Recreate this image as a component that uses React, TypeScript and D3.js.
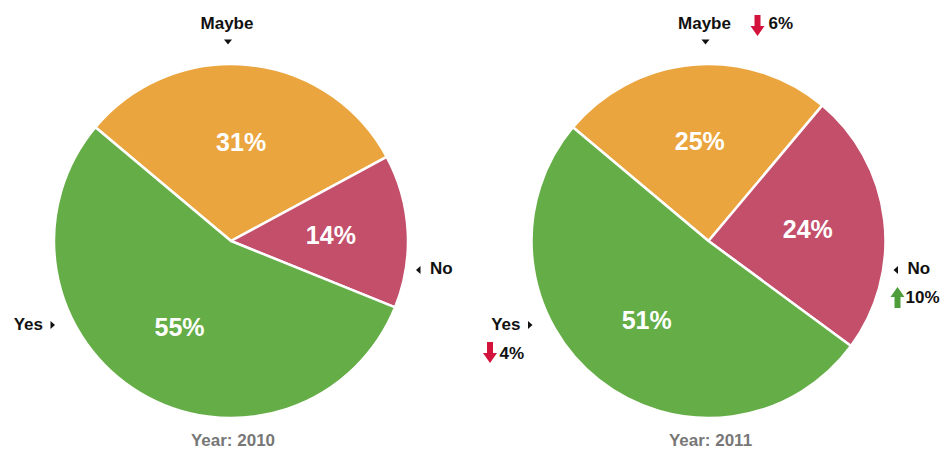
import React from 'react';
import * as d3 from 'd3';

const W = 948;
const H = 452;

const categories = ['Maybe', 'No', 'Yes'];
const years = ['2010', '2011'];
const share2010 = [31, 14, 55];
const share2011 = [25, 24, 51];
const change2010: (number | null)[] = [null, null, null];
const change2011: (number | null)[] = [-6, 10, -4];
const colors = ['#EBA53E', '#C34F6B', '#64AD47'];

const centersX = [231, 708.5];
const cy = 241;
const radius = 177;
const font = '"Liberation Sans", Arial, sans-serif';

// category label placement relative to pie centre
const labelPos: Record<string, any> = {
  Maybe: { tx: -4, ty: 29 - cy, anchor: 'middle', tri: 'down', trx: -3, tr_y: 42 - cy, ax: 49, ay: 15 - cy, vx: 60, vy: 29 - cy },
  No: { tx: 199, ty: 33, anchor: 'start', tri: 'left', trx: 185, tr_y: 29, ax: 189, ay: 46, vx: 197, vy: 62 },
  Yes: { tx: -188, ty: 89, anchor: 'end', tri: 'right', trx: -176, tr_y: 84, ax: -218.5, ay: 101, vx: -209, vy: 118 },
};

function triangle(kind: string, x: number, y: number) {
  if (kind === 'down') return `M${x - 4},${y - 2.5}L${x + 4},${y - 2.5}L${x},${y + 2.5}Z`;
  if (kind === 'left') return `M${x},${y}L${x + 4.5},${y - 4}L${x + 4.5},${y + 4}Z`;
  return `M${x},${y}L${x - 4.5},${y - 4}L${x - 4.5},${y + 4}Z`;
}

function arrow(up: boolean, x: number, top: number) {
  const h = 21, sw = 3, hw = 7, hh = 10;
  if (up) {
    return `M${x},${top}L${x + hw},${top + hh}L${x + sw},${top + hh}L${x + sw},${top + h}L${x - sw},${top + h}L${x - sw},${top + hh}L${x - hw},${top + hh}Z`;
  }
  const b = top + h;
  return `M${x},${b}L${x + hw},${b - hh}L${x + sw},${b - hh}L${x + sw},${top}L${x - sw},${top}L${x - sw},${b - hh}L${x - hw},${b - hh}Z`;
}

function Pie({ cx, year, shares, changes }: { cx: number; year: string; shares: number[]; changes: (number | null)[] }) {
  const start = (-50 * Math.PI) / 180;
  const pie = d3.pie<number>().sort(null).value((d) => d).startAngle(start).endAngle(start + 2 * Math.PI);
  const arcs = pie(shares);
  const arc = d3.arc<d3.PieArcDatum<number>>().innerRadius(0).outerRadius(radius);
  const labelArc = d3.arc<d3.PieArcDatum<number>>().innerRadius(100).outerRadius(100);

  return (
    <g>
      <g transform={`translate(${cx},${cy})`}>
        <circle r={radius + 1} fill="#fbf8ea" />
        {arcs.map((a, i) => (
          <path key={i} d={arc(a) || ''} fill={colors[i]} stroke="#fff" strokeWidth={2.5} strokeLinejoin="round" />
        ))}
        {arcs.map((a, i) => {
          const [x, y] = labelArc.centroid(a);
          return (
            <text key={'l' + i} x={x} y={y} dy="0.36em" textAnchor="middle" fill="#fff" fontSize={25} fontWeight="bold" fontFamily={font}>
              {shares[i]}%
            </text>
          );
        })}
      </g>
      {categories.map((c, i) => {
        const p = labelPos[c];
        const ch = changes[i];
        return (
          <g key={c} transform={`translate(${cx},${cy})`}>
            <text x={p.tx} y={p.ty} textAnchor={p.anchor} fontSize={17} fontWeight="bold" fontFamily={font} fill="#111">
              {c}
            </text>
            <path d={triangle(p.tri, p.trx, p.tr_y)} fill="#111" />
            {ch !== null && (
              <g>
                <path d={arrow(ch > 0, p.ax, p.ay)} fill={ch > 0 ? '#4F9C3A' : '#D4133D'} />
                <text x={p.vx} y={p.vy} fontSize={17} fontWeight="bold" fontFamily={font} fill="#111">
                  {Math.abs(ch)}%
                </text>
              </g>
            )}
          </g>
        );
      })}
      <text x={cx + 2} y={446} textAnchor="middle" fontSize={17} fontWeight="bold" fontFamily={font} fill="#777">
        Year: {year}
      </text>
    </g>
  );
}

export default function App() {
  return (
    <svg width={W} height={H} style={{ position: 'absolute', left: 0, top: 0, background: '#fff' }}>
      <rect width={W} height={H} fill="#fff" />
      <Pie cx={centersX[0]} year={years[0]} shares={share2010} changes={change2010} />
      <Pie cx={centersX[1]} year={years[1]} shares={share2011} changes={change2011} />
    </svg>
  );
}
